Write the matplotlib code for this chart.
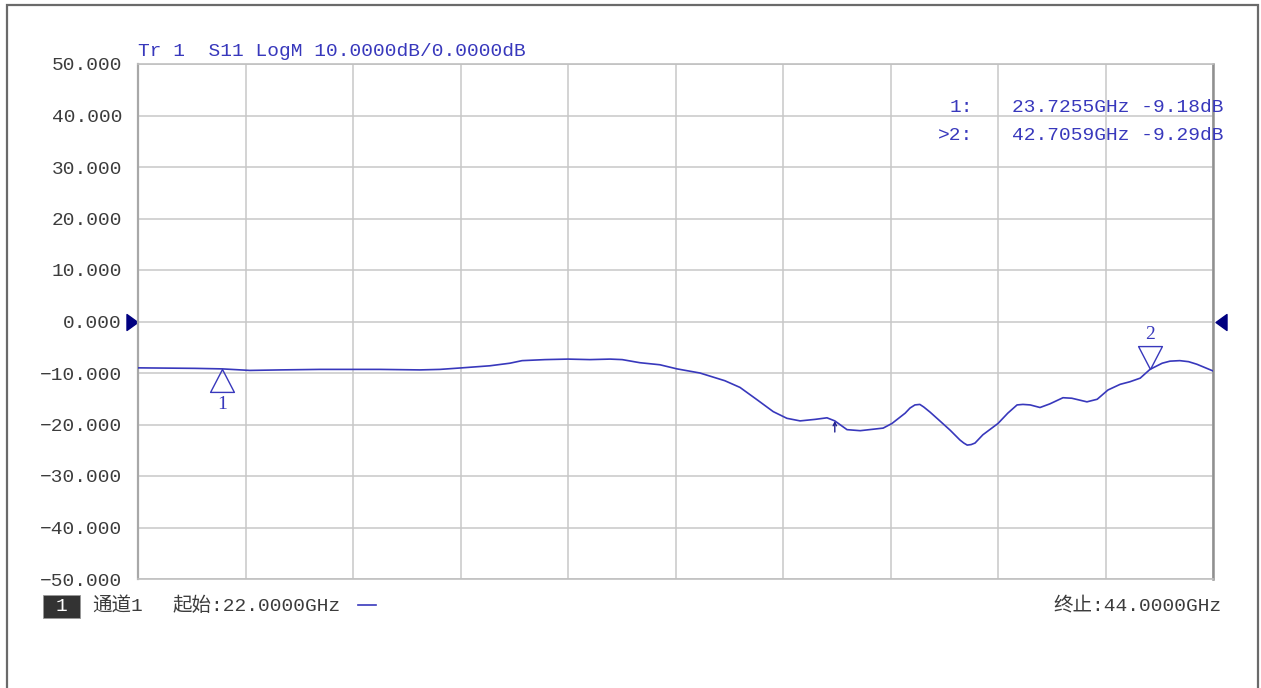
import numpy as np
import matplotlib
matplotlib.use('Agg')
import matplotlib.pyplot as plt
from matplotlib.path import Path
from matplotlib.patches import Rectangle
from matplotlib.lines import Line2D
import matplotlib.transforms as mtrans

# ---------------- data ----------------
freq_ghz = [22.00, 23.17, 23.72, 24.29, 24.91, 25.72, 26.95, 27.77, 28.18, 28.63,
            29.20, 29.61, 29.86, 30.33, 30.80, 31.25, 31.66, 31.91, 32.27, 32.68,
            33.03, 33.50, 34.01, 34.32, 34.67, 35.00, 35.28, 35.55, 35.86, 36.10,
            36.26, 36.51, 36.78, 37.25, 37.43, 37.70, 37.80, 37.90, 38.00, 38.08,
            38.21, 38.41, 38.62, 38.82, 38.90, 38.97, 39.05, 39.13, 39.29, 39.60,
            39.80, 39.99, 40.11, 40.26, 40.46, 40.66, 40.93, 41.11, 41.42, 41.63,
            41.85, 42.10, 42.30, 42.51, 42.71, 42.96, 43.12, 43.32, 43.50, 43.67,
            44.00]
s11_db = [-9.0, -9.1, -9.2, -9.5, -9.4, -9.3, -9.3, -9.4, -9.3, -9.0,
          -8.6, -8.1, -7.6, -7.4, -7.3, -7.4, -7.3, -7.4, -8.0, -8.4,
          -9.2, -10.0, -11.5, -12.8, -15.2, -17.5, -18.8, -19.3, -19.0, -18.7,
          -19.3, -21.0, -21.2, -20.7, -19.8, -17.8, -16.8, -16.2, -16.1, -16.6,
          -17.6, -19.3, -21.1, -23.0, -23.6, -24.0, -23.9, -23.6, -22.0, -19.8,
          -17.8, -16.2, -16.1, -16.2, -16.7, -16.0, -14.8, -14.9, -15.6, -15.1,
          -13.3, -12.2, -11.7, -11.0, -9.3, -8.1, -7.7, -7.6, -7.8, -8.3,
          -9.6]

marker_ids = ['1', '2']
marker_freqs = [23.7255, 42.7059]
marker_vals = [-9.18, -9.29]
marker_above = [False, True]
active_marker = '2'
hidden_marker_freq = 36.26
hidden_marker_val = -19.3

y_ticks = [50, 40, 30, 20, 10, 0, -10, -20, -30, -40, -50]
ref_level = 0.0
x_start, x_stop = 22.0, 44.0
title_text = "Tr 1  S11 LogM 10.0000dB/0.0000dB"
channel_text = "通道1"

# ---------------- style ----------------
W, H = 1261, 688
BLUE = '#3838bc'
TXT = '#3c3c3c'
plt.rcParams['font.family'] = ['Liberation Mono', 'Noto Sans CJK SC']

fig = plt.figure(figsize=(W / 100, H / 100), dpi=100)
fig.patch.set_facecolor('white')

def fx(px):
    return px / W

def fy(py):
    return 1 - py / H

ax = fig.add_axes([fx(138), fy(579), (1213 - 138) / W, (579 - 64) / H])
ax.set_xlim(x_start, x_stop)
ax.set_ylim(-50, 50)
ax.set_xticks(np.linspace(x_start, x_stop, 11))
ax.set_yticks(y_ticks)
ax.set_yticklabels([f"{v:.3f}".replace('-', '−') for v in y_ticks])
ax.tick_params(axis='x', labelbottom=False, length=0)
ax.tick_params(axis='y', length=0, pad=11.5, labelsize=14, labelcolor=TXT)
ax.grid(True, color='#c8c8c8', lw=1.1)
ax.set_axisbelow(True)
for s in ['top', 'bottom']:
    ax.spines[s].set_color('#c0c0c0')
    ax.spines[s].set_linewidth(1.2)
ax.spines['left'].set_color('#a8a8a8')
ax.spines['left'].set_linewidth(1.6)
ax.spines['right'].set_color('#909090')
ax.spines['right'].set_linewidth(1.8)

# trace
ax.plot(freq_ghz, s11_db, color=BLUE, lw=1.2, zorder=3, solid_joinstyle='round')

# markers
tri_below = Path([(0, 0), (-0.52, -1), (0.52, -1), (0, 0)],
                 [Path.MOVETO, Path.LINETO, Path.LINETO, Path.CLOSEPOLY])
tri_above = Path([(0, 0), (-0.52, 1), (0.52, 1), (0, 0)],
                 [Path.MOVETO, Path.LINETO, Path.LINETO, Path.CLOSEPOLY])
for mid, f, v, above in zip(marker_ids, marker_freqs, marker_vals, marker_above):
    ax.plot([f], [v], marker=tri_above if above else tri_below, ms=33,
            mfc='none', mec=BLUE, mew=1.0, ls='none', zorder=4, clip_on=False)
    ax.annotate(mid, xy=(f, v), xytext=(0, 25 if above else -26),
                textcoords='offset points', ha='center', va='center',
                fontsize=14, color=BLUE,
                family=['Liberation Serif', 'Noto Sans CJK SC'])

# hidden marker arrow
ax.annotate('', xy=(hidden_marker_freq, hidden_marker_val), xytext=(0, -8),
            textcoords='offset points',
            arrowprops=dict(arrowstyle='->', color='#202090', lw=1.0,
                            shrinkA=0, shrinkB=0, mutation_scale=6))

# reference level arrows
blend = mtrans.blended_transform_factory(ax.transAxes, ax.transData)
tri_right = Path([(-0.69, 1), (0.69, 0), (-0.69, -1), (-0.69, 1)],
                 [Path.MOVETO, Path.LINETO, Path.LINETO, Path.CLOSEPOLY])
tri_left = Path([(0.69, 1), (-0.69, 0), (0.69, -1), (0.69, 1)],
                [Path.MOVETO, Path.LINETO, Path.LINETO, Path.CLOSEPOLY])
tl = blend + mtrans.ScaledTranslation(-6.5 / 100, 0, fig.dpi_scale_trans)
tr = blend + mtrans.ScaledTranslation(8 / 100, 0, fig.dpi_scale_trans)
ax.plot([0], [ref_level], marker=tri_right, ms=11.5, color='#000080',
        transform=tl, clip_on=False, ls='none')
ax.plot([1], [ref_level], marker=tri_left, ms=11.5, color='#000080',
        transform=tr, clip_on=False, ls='none')

# title
fig.text(fx(138), fy(51), title_text, color=BLUE, fontsize=14,
         ha='left', va='center')

# marker readouts
row_y = [107, 136]
for mid, f, v, yy in zip(marker_ids, marker_freqs, marker_vals, row_y):
    lab = ('>' if mid == active_marker else '') + mid + ':'
    fig.text(fx(973), fy(yy), lab, color=BLUE, fontsize=14, ha='right', va='center')
    fig.text(fx(1223), fy(yy), f"{f:.4f}GHz {v:.2f}dB", color=BLUE,
             fontsize=14, ha='right', va='center')

# bottom status line
fig.patches.append(Rectangle((fx(43), fy(618)), 37 / W, 23 / H,
                             transform=fig.transFigure, facecolor='#333333',
                             edgecolor='#999999', lw=0.6))
fig.text(fx(61.5), fy(606.5), '1', color='white', fontsize=14,
         ha='center', va='center')
fig.text(fx(92), fy(606), channel_text, color=TXT, fontsize=14,
         ha='left', va='center')
fig.text(fx(172), fy(606), f"起始:{x_start:.4f}GHz", color=TXT, fontsize=14,
         ha='left', va='center')
fig.lines.append(Line2D([fx(358), fx(376)], [fy(605), fy(605)],
                        transform=fig.transFigure, color=BLUE, lw=1.2))
fig.text(fx(1222), fy(606), f"终止:{x_stop:.4f}GHz", color=TXT, fontsize=14,
         ha='right', va='center')

# outer frame
fig.patches.append(Rectangle((fx(7), -0.05), (1258 - 7) / W, fy(5) + 0.05,
                             transform=fig.transFigure, fill=False,
                             edgecolor='#6a6a6a', lw=1.6))

fig.savefig('out.png', dpi=100)
